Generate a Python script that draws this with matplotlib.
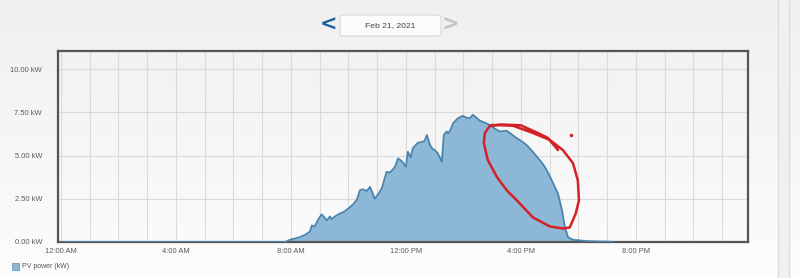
import matplotlib
matplotlib.use("Agg")
import matplotlib.pyplot as plt
import numpy as np
from matplotlib.patches import FancyBboxPatch, Rectangle
from matplotlib.lines import Line2D

plt.rcParams["font.family"] = ["Liberation Sans", "DejaVu Sans"]

# ---- data (hours of day, kW) ----
hours = [0.0, 7.8, 7.97, 8.31, 8.5, 8.66, 8.73, 8.83, 8.95, 9.07, 9.15, 9.25, 9.36, 9.42,
         9.55, 9.70, 9.85, 9.99, 10.15, 10.3, 10.4, 10.5, 10.64, 10.75, 10.85, 10.92,
         11.05, 11.16, 11.33, 11.44, 11.55, 11.62, 11.73, 11.8, 11.9, 12.0, 12.07, 12.17,
         12.24, 12.42, 12.55, 12.65, 12.73, 12.84, 12.92, 13.0, 13.11, 13.25, 13.32, 13.42,
         13.47, 13.55, 13.64, 13.81, 13.98, 14.1, 14.22, 14.33, 14.45, 14.57, 14.75, 14.92,
         15.1, 15.27, 15.5, 15.7, 15.86, 16.05, 16.2, 16.4, 16.56, 16.75, 16.9, 17.05,
         17.18, 17.29, 17.43, 17.53, 17.64, 17.81, 18.3, 19.2]
pv_kw = [0.0, 0.0, 0.13, 0.28, 0.42, 0.6, 0.96, 0.9, 1.3, 1.6, 1.45, 1.25, 1.48, 1.32,
         1.5, 1.64, 1.75, 1.93, 2.15, 2.45, 3.0, 3.05, 2.95, 3.19, 2.8, 2.5,
         2.8, 3.1, 4.06, 4.02, 4.2, 4.35, 4.84, 4.75, 4.6, 4.35, 5.22, 4.9,
         5.42, 5.75, 5.78, 5.85, 6.19, 5.61, 5.4, 5.32, 5.13, 4.64, 6.19, 6.39,
         6.29, 6.48, 6.87, 7.16, 7.3, 7.2, 7.16, 7.36, 7.2, 7.02, 6.9, 6.77,
         6.55, 6.39, 6.44, 6.2, 6.0, 5.8, 5.61, 5.25, 4.93, 4.55, 4.16, 3.65,
         3.19, 2.8, 1.83, 0.86, 0.28, 0.13, 0.05, 0.01]

y_ticks = [0, 2.5, 5, 7.5, 10]
y_tick_labels = ["0.00 kW", "2.50 kW", "5.00 kW", "7.50 kW", "10.00 kW"]
x_ticks = [0, 4, 8, 12, 16, 20]
x_tick_labels = ["12:00 AM", "4:00 AM", "8:00 AM", "12:00 PM", "4:00 PM", "8:00 PM"]
date_label = "Feb 21, 2021"
legend_label = "PV power (kW)"

# hand-drawn red annotation loop (hours, kW)
loop_h = [14.99, 15.72, 16.42, 17.01, 17.46, 17.81, 17.98, 18.02, 17.91, 17.70, 17.46,
          17.01, 16.42, 15.86, 15.51, 15.17, 14.85, 14.71, 14.75, 14.92, 15.3, 16.0,
          16.6, 16.94, 17.29]
loop_kw = [6.77, 6.73, 6.31, 5.90, 5.32, 4.57, 3.58, 2.41, 1.66, 0.84, 0.78,
           0.90, 1.42, 2.41, 2.99, 3.75, 4.74, 5.73, 6.31, 6.72, 6.8, 6.75,
           6.3, 6.02, 5.32]

W, H = 800, 278
fig = plt.figure(figsize=(W / 100, H / 100), dpi=100)
fig.patch.set_facecolor("#f4f4f4")

# background gradient
bg = fig.add_axes([0, 0, 1, 1], zorder=-10)
grad = np.linspace(0, 1, 256).reshape(-1, 1)
top = np.array([0.94, 0.94, 0.94])
bot = np.array([0.99, 0.99, 0.99])
img = top[None, None, :] * (1 - grad[:, :, None]) + bot[None, None, :] * grad[:, :, None]
bg.imshow(img, aspect="auto", extent=[0, 1, 0, 1], origin="upper")
bg.set_xlim(0, 1)
bg.set_ylim(0, 1)
bg.axis("off")

# right side panel borders
fig.add_artist(Rectangle((779 / W, 0), 10 / W, 1, color="#f0f0f0", zorder=-5))
for xp in (778, 789):
    fig.add_artist(Line2D([xp / W, xp / W], [0, 1], color="#dedede", lw=1.0))

ax = fig.add_axes([58 / W, 36 / H, 690 / W, 191 / H])
ax.set_facecolor("none")

ax.fill_between(hours, pv_kw, 0, color="#8db7d7", lw=0, zorder=2)
ax.plot(hours, pv_kw, color="#4a84ae", lw=1.3, zorder=3)

ax.plot(loop_h, loop_kw, color="#d42027", lw=1.8, zorder=4, solid_capstyle="round",
        solid_joinstyle="round")
ax.plot([17.74], [6.19], marker="o", ms=1.5, color="#d42027", zorder=4)

ax.set_xlim(-0.1, 23.9)
ax.set_ylim(0, 11.05)

ax.set_xticks(range(0, 24))
ax.set_xticklabels([x_tick_labels[x_ticks.index(h)] if h in x_ticks else "" for h in range(24)])
ax.set_yticks(y_ticks)
ax.set_yticklabels(y_tick_labels)
ax.tick_params(axis="both", length=0, labelsize=5.4, colors="#5a5a5a")
ax.tick_params(axis="x", pad=4)
ax.tick_params(axis="y", pad=11.5)
ax.grid(True, color="#dadada", lw=0.8, zorder=1)
ax.set_axisbelow(True)
for s in ax.spines.values():
    s.set_color("#555555")
    s.set_linewidth(1.6)

# date navigator
box = FancyBboxPatch((340 / W, (H - 36) / H), 101 / W, 21 / H,
                     boxstyle="round,pad=0,rounding_size=0.006",
                     transform=fig.transFigure, facecolor="#fbfbfb",
                     edgecolor="#d6d6d6", lw=0.8)
fig.add_artist(box)
fig.text(390 / W, (H - 25.5) / H, date_label, ha="center", va="center",
         fontsize=6.1, color="#444444")
fig.text(329 / W, (H - 24.5) / H, "<", ha="center", va="center", fontsize=15,
         color="#1d5f98", fontweight="bold", family="DejaVu Sans")
fig.text(451 / W, (H - 24.5) / H, ">", ha="center", va="center", fontsize=15,
         color="#c2c2c2", fontweight="bold", family="DejaVu Sans")

# legend
fig.add_artist(Rectangle((12 / W, (H - 270) / H), 7 / W, 7 / H, transform=fig.transFigure,
                         facecolor="#8db7d7", edgecolor="#6b9cc2", lw=0.6))
fig.text(22 / W, (H - 266.5) / H, legend_label, ha="left", va="center",
         fontsize=5.0, color="#555555")

fig.savefig("out.png", dpi=100, facecolor=fig.get_facecolor())
